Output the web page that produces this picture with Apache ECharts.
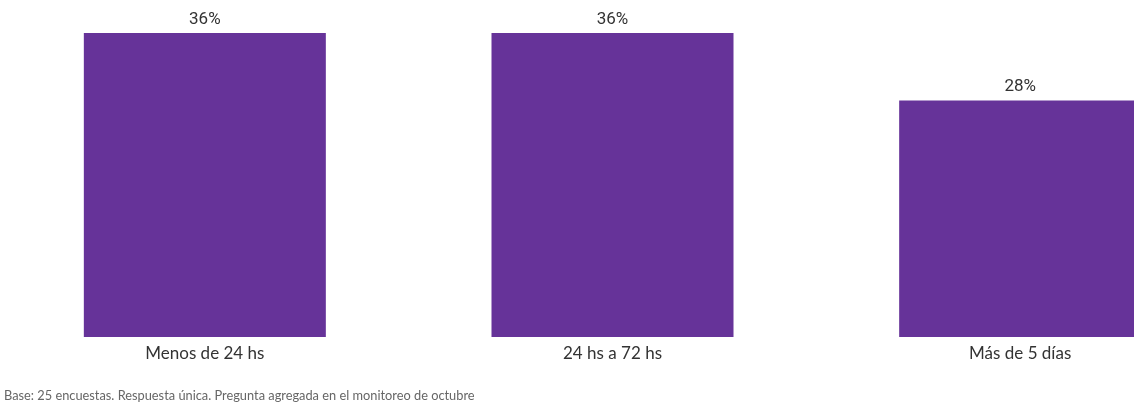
<!DOCTYPE html>
<html><head><meta charset="utf-8">
<script src="https://cdn.jsdelivr.net/npm/echarts@6/dist/echarts.min.js"></script>
<style>html,body{margin:0;padding:0;background:#fff;overflow:hidden}#c{width:1224px;height:405px}</style>
</head><body><div id="c"></div>
<script>
const categories = ["Menos de 24 hs", "24 hs a 72 hs", "Más de 5 días"];
const values = [36, 36, 28];
const footnote = "Base: 25 encuestas. Respuesta única. Pregunta agregada en el monitoreo de octubre";

const chart = echarts.init(document.getElementById('c'), null, {renderer: 'canvas'});
chart.setOption({
  animation: false,
  grid: {left: 1, top: 33, right: 0, height: 304, containLabel: false},
  xAxis: {
    type: 'category', data: categories,
    axisLine: {show: false}, axisTick: {show: false},
    axisLabel: {color: '#333', fontFamily: 'Lato', fontSize: 17, margin: 8}
  },
  yAxis: {type: 'value', min: 0, max: 36, show: false, splitLine: {show: false}},
  series: [{
    type: 'bar', data: values, barWidth: 242,
    itemStyle: {color: '#663399'},
    label: {show: true, position: 'top', distance: 5, formatter: '{c}%', color: '#333', fontFamily: 'Roboto', fontSize: 17}
  }],
  graphic: [{
    type: 'text', left: 4, top: 389,
    style: {text: footnote, fill: '#666', font: '12.8px Lato'}
  }]
});
</script></body></html>
